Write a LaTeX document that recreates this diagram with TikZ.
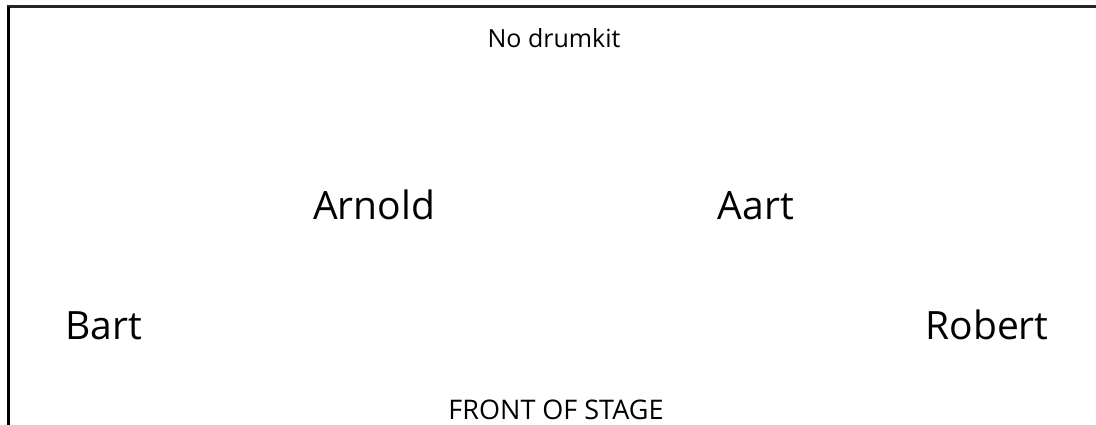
\documentclass[tikz,border=0pt]{standalone}
\usepackage{fontspec}
\setmainfont{Open Sans}
\begin{document}
\begin{tikzpicture}[x=1pt,y=-1pt,
  small/.style={font=\fontsize{25}{30}\selectfont, anchor=base, inner sep=0pt},
  big/.style={font=\fontsize{39}{46}\selectfont, anchor=base, inner sep=0pt}]
\useasboundingbox (0,0) rectangle (1096,425);
\fill[white] (0,0) rectangle (1096,425);
\draw[line width=3pt, black!85] (6.5,7) -- (1096,7);
\draw[line width=3pt] (8,7) -- (8,425);
\node[small] (drum) at (554,48) {No drumkit};
\node[big] (arnold) at (374,219) {Arnold};
\node[big] (aart) at (756,219) {Aart};
\node[big] (bart) at (104,339) {Bart};
\node[big] (robert) at (987,339) {Robert};
\node[small, font=\fontsize{27}{32}\selectfont] (front) at (556,419) {FRONT OF STAGE};
\end{tikzpicture}
\end{document}
